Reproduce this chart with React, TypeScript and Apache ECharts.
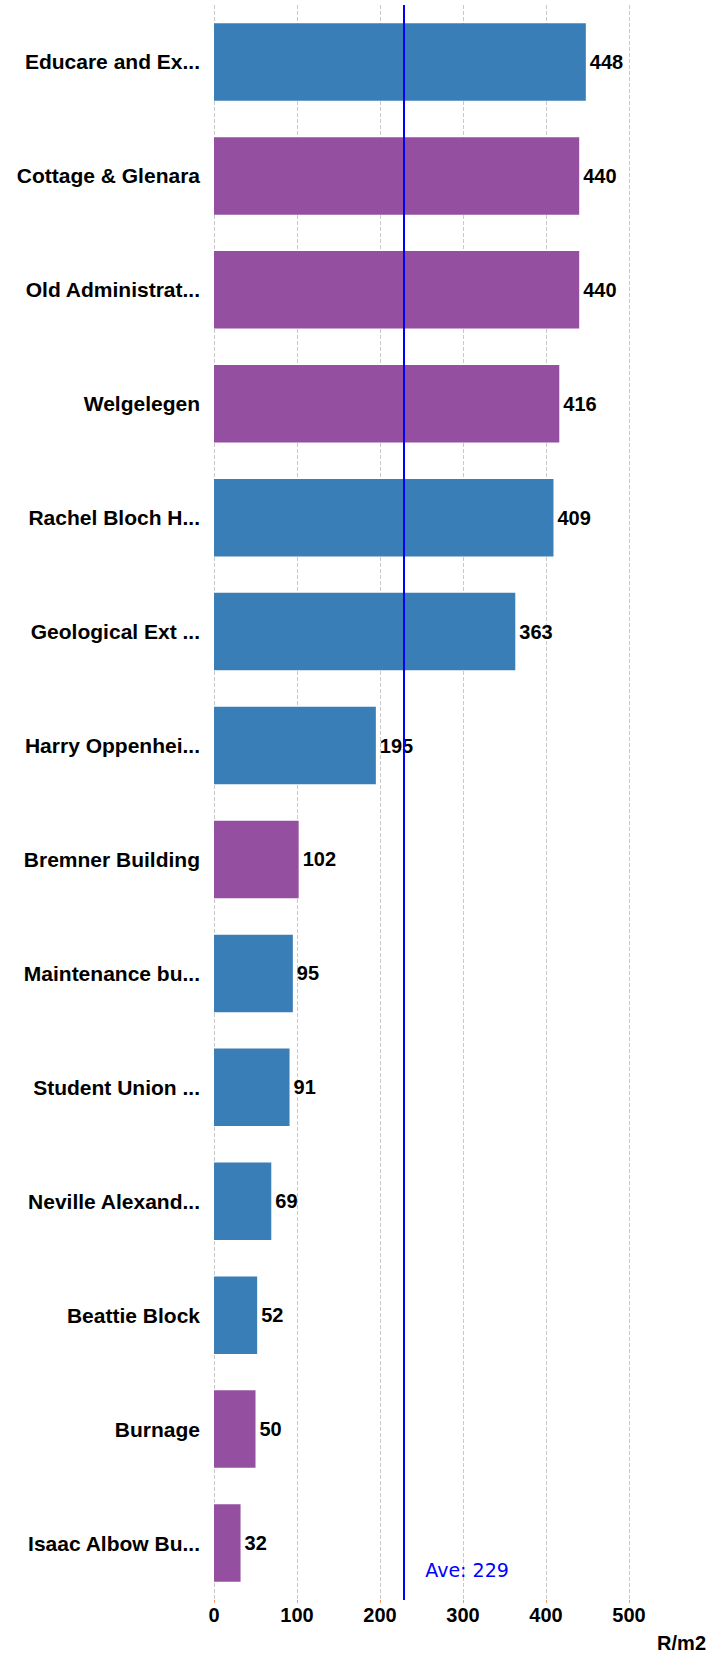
import React, { useEffect, useRef } from "react";
import * as echarts from "echarts";

const categories = [
  "Educare and Ex...",
  "Cottage & Glenara",
  "Old Administrat...",
  "Welgelegen",
  "Rachel Bloch H...",
  "Geological Ext ...",
  "Harry Oppenhei...",
  "Bremner Building",
  "Maintenance bu...",
  "Student Union ...",
  "Neville Alexand...",
  "Beattie Block",
  "Burnage",
  "Isaac Albow Bu...",
];
const values = [448, 440, 440, 416, 409, 363, 195, 102, 95, 91, 69, 52, 50, 32];
// 0 = blue group, 1 = purple group
const groups = [0, 1, 1, 1, 0, 0, 0, 1, 0, 0, 0, 0, 1, 1];
const groupColors = ["#3A7EB8", "#954FA0"];
const average = 229;
const xTicks = { min: 0, max: 500, interval: 100 };
const axisName = "R/m2";

const FONT = "Liberation Sans, Arial, sans-serif";

export default function App() {
  const ref = useRef<HTMLDivElement>(null);
  useEffect(() => {
    if (!ref.current) return;
    const chart = echarts.init(ref.current, null, { renderer: "svg" });
    chart.setOption({
      animation: false,
      grid: { left: 214, right: 77, top: 5, bottom: 54, containLabel: false },
      xAxis: {
        type: "value",
        min: xTicks.min,
        max: xTicks.max,
        interval: xTicks.interval,
        axisLine: { show: false },
        axisTick: { show: true, length: 3, lineStyle: { color: "#f0a060" } },
        splitLine: { show: true, lineStyle: { type: "dashed", color: "#c8c8c8", width: 1 } },
        axisLabel: {
          color: "#000",
          fontWeight: "bold",
          fontSize: 20,
          fontFamily: FONT,
          margin: 5,
        },
        name: axisName,
        nameLocation: "end",
        nameGap: 77,
        nameTextStyle: {
          color: "#000",
          fontWeight: "bold",
          fontSize: 20,
          fontFamily: FONT,
          align: "right",
          verticalAlign: "top",
          padding: [33, 0, 0, 0],
        },
      },
      yAxis: {
        type: "category",
        data: categories,
        inverse: true,
        axisLine: { show: false },
        axisTick: { show: false },
        splitLine: { show: false },
        axisLabel: {
          color: "#000",
          fontWeight: "bold",
          fontSize: 21,
          fontFamily: FONT,
          margin: 14,
        },
      },
      series: [
        {
          type: "bar",
          barCategoryGap: "32%",
          data: values.map((v, i) => ({
            value: v,
            itemStyle: { color: groupColors[groups[i]] },
          })),
          label: {
            show: true,
            position: "right",
            distance: 4,
            color: "#000",
            fontWeight: "bold",
            fontSize: 20,
            fontFamily: FONT,
          },
          markLine: {
            silent: true,
            symbol: "none",
            lineStyle: { color: "#0000ff", width: 2, type: "solid" },
            label: {
              show: true,
              position: "end",
              formatter: "Ave: {c}",
              color: "#0000ff",
              fontSize: 19,
              fontFamily: "DejaVu Sans, Verdana, sans-serif",
              offset: [63, -45],
            },
            data: [{ xAxis: average }],
          },
        },
      ],
    });
    return () => chart.dispose();
  }, []);
  return (
    <div
      ref={ref}
      style={{ position: "absolute", left: 0, top: 0, width: 709, height: 1654 }}
    />
  );
}
